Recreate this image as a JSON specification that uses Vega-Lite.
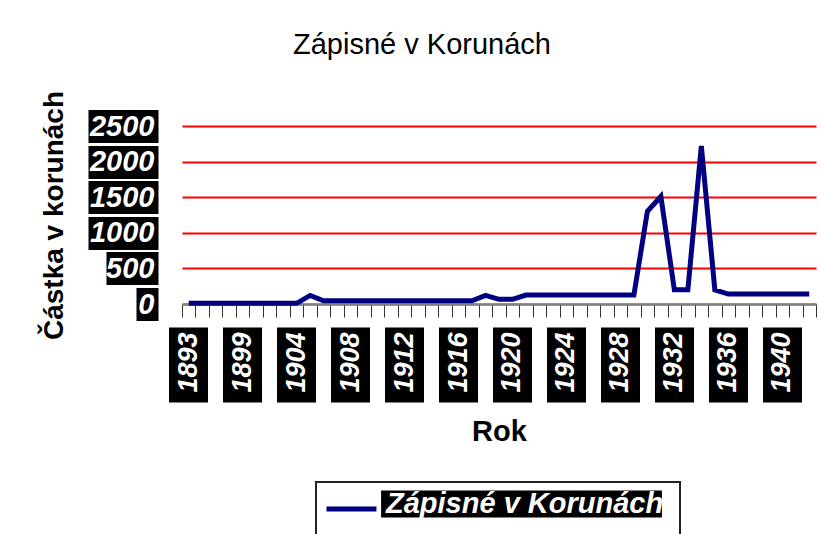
{
  "$schema": "https://vega.github.io/schema/vega-lite/v6.json",
  "width": 634,
  "height": 178,
  "autosize": "none",
  "padding": {"left": 182, "top": 126, "right": 4, "bottom": 230},
  "background": "white",
  "config": {"font": "Liberation Sans", "view": {"stroke": null}, "legend": {"strokeWidth": 2}},
  "title": {"text": "Zápisné v Korunách", "fontSize": 29, "fontWeight": "normal", "color": "black", "anchor": "middle", "frame": "group", "dx": -77, "dy": -27},
  "data": {"values": [
    {"year": "1893", "value": 10}, {"year": "1894", "value": 10}, {"year": "1895", "value": 10},
    {"year": "1897", "value": 10}, {"year": "1899", "value": 10}, {"year": "1900", "value": 10},
    {"year": "1901", "value": 10}, {"year": "1903", "value": 10}, {"year": "1904", "value": 10},
    {"year": "1905", "value": 120}, {"year": "1906", "value": 45}, {"year": "1907", "value": 45},
    {"year": "1908", "value": 45}, {"year": "1909", "value": 45}, {"year": "1910", "value": 45},
    {"year": "1911", "value": 45}, {"year": "1912", "value": 45}, {"year": "1913", "value": 45},
    {"year": "1914", "value": 45}, {"year": "1915", "value": 45}, {"year": "1916", "value": 45},
    {"year": "1917", "value": 45}, {"year": "1918", "value": 120}, {"year": "1919", "value": 65},
    {"year": "1920", "value": 65}, {"year": "1921", "value": 125}, {"year": "1922", "value": 125},
    {"year": "1923", "value": 125}, {"year": "1924", "value": 125}, {"year": "1925", "value": 125},
    {"year": "1926", "value": 125}, {"year": "1927", "value": 125}, {"year": "1928", "value": 125},
    {"year": "1929", "value": 125}, {"year": "1930", "value": 1300}, {"year": "1931", "value": 1510},
    {"year": "1932", "value": 200}, {"year": "1933", "value": 200}, {"year": "1934", "value": 2220},
    {"year": "1935", "value": 200}, {"year": "1936", "value": 140}, {"year": "1937", "value": 140},
    {"year": "1938", "value": 140}, {"year": "1939", "value": 140}, {"year": "1940", "value": 140},
    {"year": "1941", "value": 140}, {"year": "1942", "value": 140}
  ]},
  "layer": [
    {
      "mark": {"type": "line", "strokeWidth": 5},
      "encoding": {
        "x": {"field": "year", "type": "ordinal", "sort": null,
          "scale": {"type": "band", "paddingInner": 0, "paddingOuter": 0},
          "axis": {"orient": "bottom", "labels": false, "tickBand": "extent", "tickSize": 13, "tickColor": "#333333", "tickWidth": 1, "domainColor": "#808080", "domainWidth": 2, "grid": false, "title": null}},
        "y": {"field": "value", "type": "quantitative",
          "scale": {"domain": [0, 2500], "nice": false},
          "axis": {"orient": "left", "values": [0, 500, 1000, 1500, 2000, 2500], "tickCount": 12, "format": "d", "labelOverlap": false, "domain": false,
            "grid": true, "gridColor": "#ff0000", "gridWidth": 2,
            "ticks": true, "tickColor": "#000000", "tickWidth": 33,
            "tickSize": {"condition": [{"test": "datum.value == 0", "value": 22}, {"test": "datum.value == 500", "value": 52}], "value": 70},
            "labelPadding": {"condition": [{"test": "datum.value == 0", "value": -18}, {"test": "datum.value == 500", "value": -48}], "value": -66},
            "offset": 24,
            "labelColor": "#ffffff", "labelFontSize": 29, "labelFontWeight": "bold", "labelFontStyle": "italic",
            "labelBaseline": "middle", "labelAlign": "right",
            "title": "Částka v korunách", "titleFontSize": 28, "titleFontWeight": "bold", "titleColor": "#000000", "titlePadding": 3}},
        "stroke": {"datum": "Zápisné v Korunách ", "type": "nominal", "scale": {"range": ["#000080"]},
          "legend": {"title": null, "orient": "none", "legendX": 134, "legendY": 356,
            "symbolType": "M-1.18,0H2.39", "symbolSize": 784, "symbolStrokeWidth": 5, "symbolStrokeColor": "#000080", "symbolFillColor": "transparent",
            "labelFontSize": 29, "labelFontWeight": "bold", "labelFontStyle": "italic", "labelOpacity": 0, "labelOffset": 32, "labelLimit": 400,
            "padding": 10.5, "strokeColor": "#222222"}}
      }
    },
    {
      "mark": {"type": "point", "shape": "square", "filled": true, "opacity": 0, "size": 1},
      "encoding": {
        "x": {"field": "year", "type": "ordinal", "sort": null,
          "axis": {"orient": "bottom", "values": ["1893", "1899", "1904", "1908", "1912", "1916", "1920", "1924", "1928", "1932", "1936", "1940"],
            "domain": false, "grid": false, "ticks": true, "tickColor": "#000000", "tickWidth": 39, "tickSize": 75, "offset": 23,
            "labelAngle": -90, "labelPadding": -70, "labelColor": "#ffffff", "labelFontSize": 27, "labelFontWeight": "bold", "labelFontStyle": "italic",
            "labelAlign": "right", "labelBaseline": "middle", "labelOverlap": false,
            "title": "Rok", "titleFontSize": 29, "titleFontWeight": "bold", "titleColor": "#000000", "titlePadding": -4}},
        "y": {"field": "value", "type": "quantitative"},
        "fill": {"datum": "Zápisné v Korunách", "type": "nominal", "scale": {"range": ["#000000"]},
          "legend": {"title": null, "orient": "none", "legendX": 325, "legendY": 363.5,
            "symbolType": "M-10.4,-1H10.4V1H-10.4Z", "symbolSize": 729, "symbolFillColor": "#000000", "symbolStrokeWidth": 0, "symbolOpacity": 1,
            "labelColor": "#ffffff", "labelFontSize": 29, "labelFontWeight": "bold", "labelFontStyle": "italic", "labelOffset": -150, "labelLimit": 400,
            "padding": 0}}
      }
    }
  ],
  "resolve": {"axis": {"x": "independent"}, "legend": {"stroke": "independent", "fill": "independent"}}
}
